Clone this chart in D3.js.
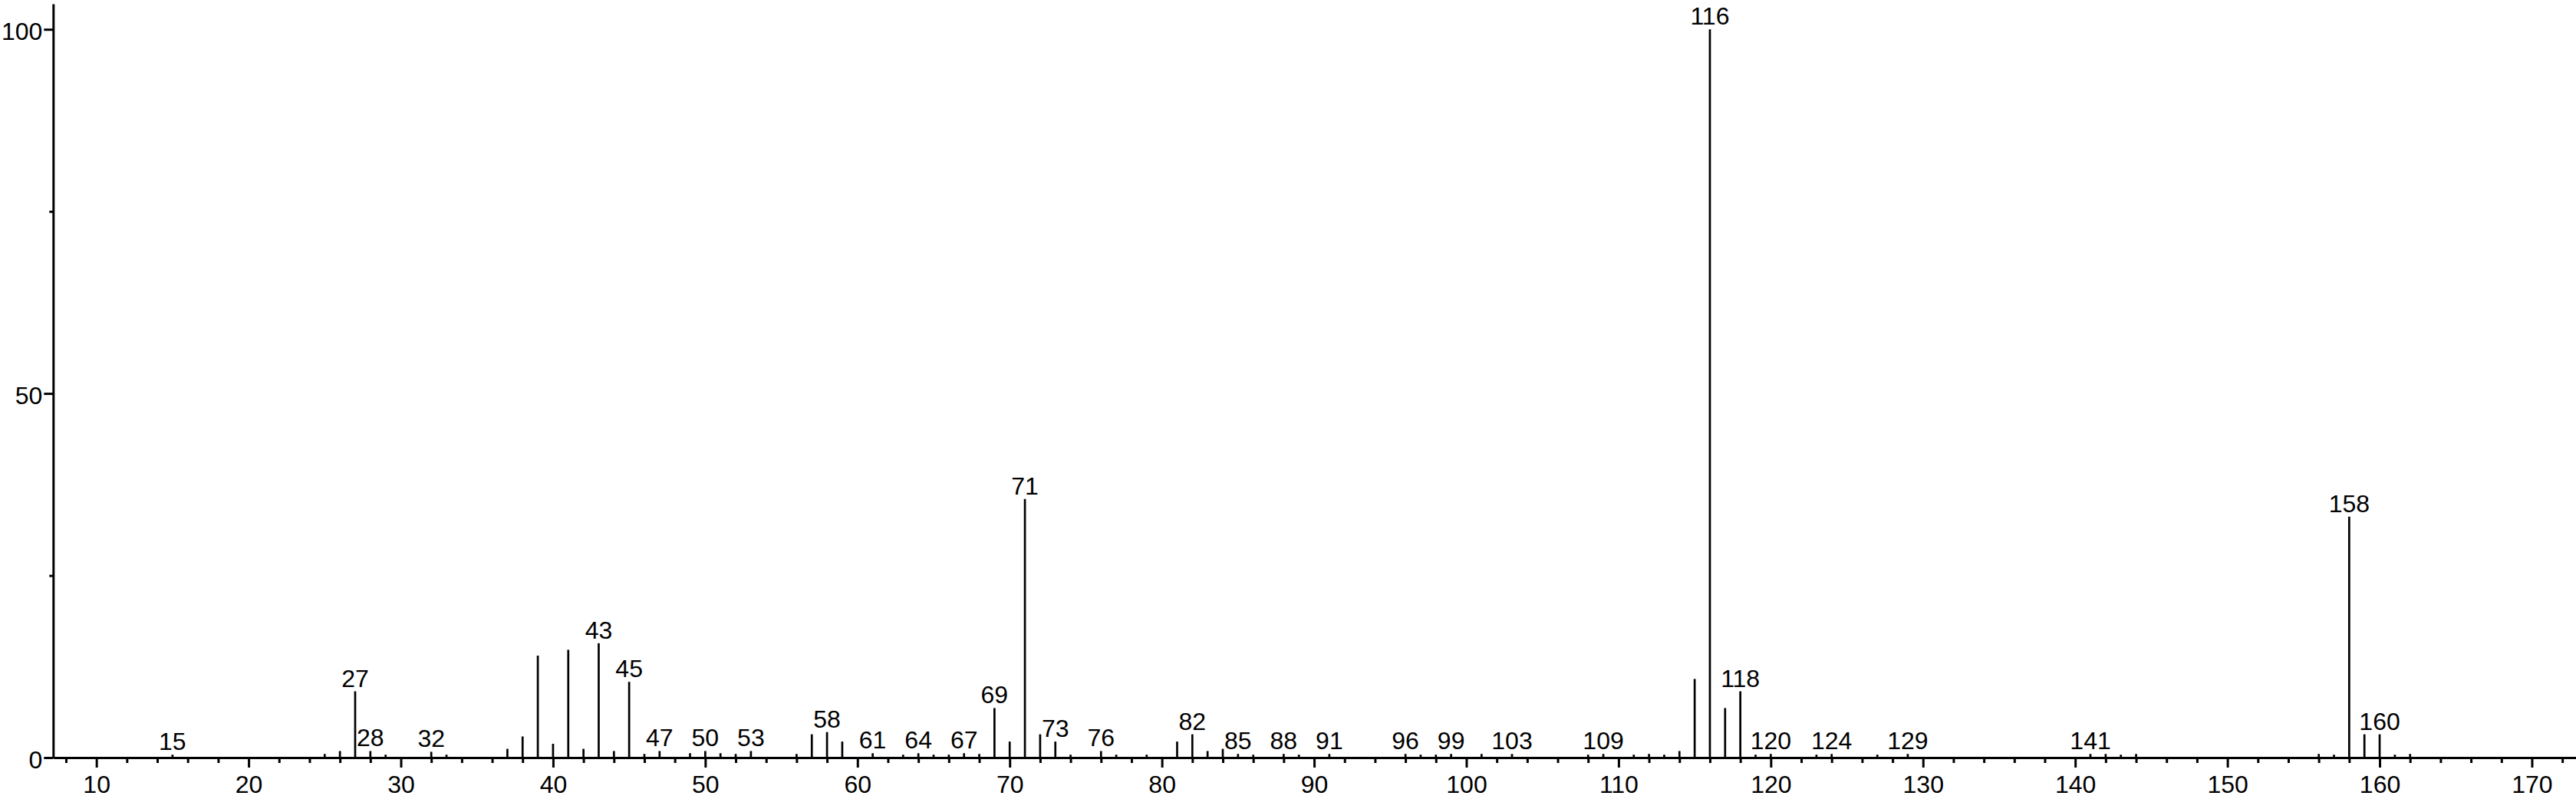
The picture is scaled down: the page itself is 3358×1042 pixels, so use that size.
<!DOCTYPE html>
<html>
<head>
<meta charset="utf-8">
<script src="https://cdn.jsdelivr.net/npm/d3@7/dist/d3.min.js"></script>
<style>
  html, body { margin: 0; padding: 0; background: #fff; }
  svg { display: block; }
  text { font-family: "Liberation Sans", Arial, Helvetica, sans-serif; fill: #000; }
</style>
</head>
<body>
<script>
// m/z values of the peaks
const mz = [15,25,26,27,28,29,32,33,37,38,39,40,41,42,43,44,45,46,47,49,50,51,52,53,56,57,58,59,
  61,63,64,65,66,67,68,69,70,71,72,73,74,76,77,79,81,82,83,84,85,86,88,89,91,96,97,98,99,101,103,
  108,109,111,112,113,114,115,116,117,118,119,120,123,124,127,129,141,142,143,144,156,157,158,159,160,161,162];
// relative intensities (%)
const intensity = [0.4,0.5,0.9,9.1,0.9,0.4,0.8,0.4,1.2,2.9,14.0,1.9,14.8,1.2,15.7,0.9,10.4,0.5,0.9,0.6,0.9,0.6,0.5,0.9,0.5,3.2,3.5,2.2,
  0.6,0.4,0.6,0.4,0.4,0.6,0.5,6.8,2.2,35.5,3.2,2.2,0.4,0.9,0.4,0.4,2.2,3.2,0.9,1.2,0.5,0.4,0.5,0.4,0.5,0.5,0.4,0.4,0.5,0.5,0.5,
  0.4,0.5,0.4,0.5,0.4,0.9,10.8,100,6.8,9.1,0.4,0.5,0.4,0.5,0.4,0.5,0.5,0.5,0.4,0.5,0.5,0.4,33.1,3.2,3.2,0.4,0.5];
// peaks carrying an m/z label
const labelled = [15,27,28,32,43,45,47,50,53,58,61,64,67,69,71,73,76,82,85,88,91,96,99,103,109,116,118,120,124,129,141,158,160];
// axis ticks
const xMajorTicks = [10,20,30,40,50,60,70,80,90,100,110,120,130,140,150,160,170];
const xMinorTicks = [8,12,14,16,18,22,24,26,28,32,34,36,38,42,44,46,48,52,54,56,58,62,64,66,68,72,74,76,78,
  82,84,86,88,92,94,96,98,102,104,106,108,112,114,116,118,122,124,126,128,132,134,136,138,142,144,146,148,
  152,154,156,158,162,164,166,168,172];
const yMajorTicks = [0,50,100];
const yMinorTicks = [25,75];

const W = 3358, H = 1042;
const svg = d3.select("body").append("svg").attr("width", W).attr("height", H);

const x = d3.scaleLinear().domain([7.16, 172.9]).range([69.3, 3358]);
const y = d3.scaleLinear().domain([0, 103.5]).range([988, 5]);

const peaks = mz.map((m, i) => ({ m, v: intensity[i] }));

// peaks
svg.append("g").selectAll("line").data(peaks).join("line")
  .attr("x1", d => x(d.m)).attr("x2", d => x(d.m))
  .attr("y1", y(0)).attr("y2", d => y(d.v))
  .attr("stroke", "#000").attr("stroke-width", 2.7);

// x axis minor
const gxMinor = svg.append("g").attr("transform", `translate(0,${y(0)})`)
  .call(d3.axisBottom(x).tickValues(xMinorTicks).tickSize(7).tickSizeOuter(0).tickFormat(""));
gxMinor.select(".domain").remove();
gxMinor.selectAll("line").attr("stroke", "#000").attr("stroke-width", 3);

// x axis major
const gx = svg.append("g").attr("transform", `translate(0,${y(0)})`)
  .call(d3.axisBottom(x).tickValues(xMajorTicks).tickSize(13).tickSizeOuter(0).tickFormat(d3.format("d")));
gx.select(".domain").attr("stroke", "#000").attr("stroke-width", 3);
gx.selectAll("line").attr("stroke", "#000").attr("stroke-width", 3);
gx.selectAll("text").attr("y", 46).attr("dy", null).style("font-size", "32px");

// y axis minor
const gyMinor = svg.append("g").attr("transform", `translate(${x.range()[0]},0)`)
  .call(d3.axisLeft(y).tickValues(yMinorTicks).tickSize(5).tickSizeOuter(0).tickFormat(""));
gyMinor.select(".domain").remove();
gyMinor.selectAll("line").attr("stroke", "#000").attr("stroke-width", 3);

// y axis major
const gy = svg.append("g").attr("transform", `translate(${x.range()[0]},0)`)
  .call(d3.axisLeft(y).tickValues(yMajorTicks).tickSize(12).tickSizeOuter(0).tickFormat(d3.format("d")));
gy.select(".domain").attr("stroke", "#000").attr("stroke-width", 3);
gy.selectAll("line").attr("stroke", "#000").attr("stroke-width", 3);
gy.selectAll("text").attr("x", -14).attr("y", 13).attr("dy", null).style("font-size", "32px");

// peak labels
const labelData = peaks.filter(d => labelled.includes(d.m));
svg.append("g").selectAll("text").data(labelData).join("text")
  .attr("x", d => x(d.m)).attr("y", d => y(d.v) - 6)
  .attr("text-anchor", "middle").style("font-size", "32px")
  .text(d => d.m);
</script>
</body>
</html>
